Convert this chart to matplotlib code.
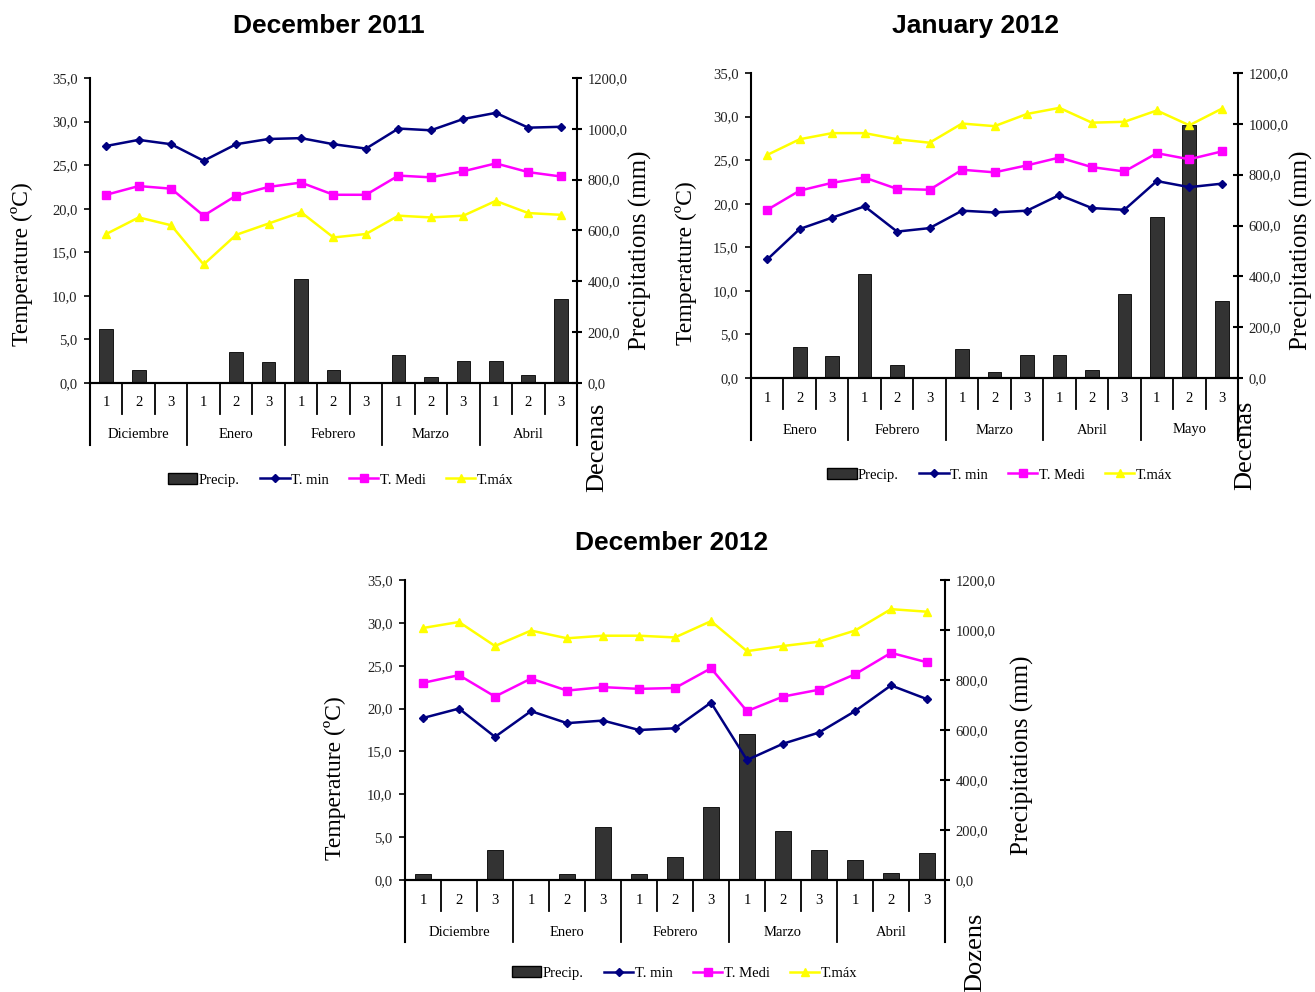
import matplotlib
matplotlib.use("Agg")
import matplotlib.pyplot as plt
from matplotlib.ticker import FuncFormatter, MultipleLocator
from matplotlib.patches import Patch
from matplotlib.lines import Line2D

plt.rcParams['font.family'] = ['Liberation Serif', 'DejaVu Serif']

decades = ['1', '2', '3']
months_a = ['Diciembre', 'Enero', 'Febrero', 'Marzo', 'Abril']
months_b = ['Enero', 'Febrero', 'Marzo', 'Abril', 'Mayo']

# December 2011
tmin_1 = [27.2, 27.9, 27.4, 25.5, 27.4, 28.0, 28.1, 27.4, 26.9, 29.2, 29.0, 30.3, 31.0, 29.3, 29.4]
tmed_1 = [21.6, 22.6, 22.3, 19.2, 21.5, 22.5, 23.0, 21.6, 21.6, 23.8, 23.6, 24.3, 25.2, 24.2, 23.7]
tmax_1 = [17.1, 19.0, 18.1, 13.6, 17.0, 18.3, 19.6, 16.7, 17.1, 19.2, 19.0, 19.2, 20.9, 19.5, 19.3]
prec_1 = [212, 50, 0, 0, 122, 84, 410, 50, 0, 111, 22, 88, 88, 31, 330]

# January 2012
tmin_2 = [13.6, 17.1, 18.4, 19.7, 16.8, 17.2, 19.2, 19.0, 19.2, 21.0, 19.5, 19.3, 22.6, 21.9, 22.3]
tmed_2 = [19.3, 21.5, 22.4, 23.0, 21.7, 21.6, 23.9, 23.6, 24.4, 25.3, 24.2, 23.7, 25.8, 25.1, 26.0]
tmax_2 = [25.6, 27.4, 28.1, 28.1, 27.4, 27.0, 29.2, 28.9, 30.3, 31.0, 29.3, 29.4, 30.7, 29.0, 30.9]
prec_2 = [0, 123, 85, 411, 52, 0, 113, 24, 89, 89, 33, 330, 635, 995, 304]

# December 2012
tmin_3 = [18.9, 20.0, 16.7, 19.7, 18.3, 18.6, 17.5, 17.7, 20.7, 14.0, 15.9, 17.2, 19.7, 22.7, 21.1]
tmed_3 = [23.0, 23.9, 21.4, 23.5, 22.1, 22.5, 22.3, 22.4, 24.7, 19.7, 21.4, 22.2, 24.0, 26.5, 25.4]
tmax_3 = [29.4, 30.1, 27.3, 29.1, 28.2, 28.5, 28.5, 28.3, 30.2, 26.7, 27.3, 27.8, 29.1, 31.6, 31.3]
prec_3 = [23, 0, 122, 0, 23, 211, 23, 94, 293, 583, 198, 122, 79, 27, 107]

W, H = 1315, 992
comma = FuncFormatter(lambda v, p: f"{v:.1f}".replace('.', ','))


def fig_text(fig, px, py, s, **kw):
    fig.text(px / W, 1 - py / H, s, **kw)


def panel(fig, box, months, tmin, tmed, tmax, prec, xname, lab):
    # box in pixels: left, top, right, bottom
    l, t, r, b = box
    ax = fig.add_axes([l / W, 1 - b / H, (r - l) / W, (b - t) / H])
    ax2 = ax.twinx()
    ax.set_zorder(ax2.get_zorder() + 1)
    ax.patch.set_visible(False)

    x = list(range(len(tmin)))
    ax2.bar(x, prec, width=0.42, color='#333333', edgecolor='black', linewidth=0.6)
    ax.plot(x, tmin, color='#000080', lw=1.8, marker='D', ms=3.8, label='T. min')
    ax.plot(x, tmed, color='#FF00FF', lw=1.8, marker='s', ms=5.2, label='T. Medi')
    ax.plot(x, tmax, color='#FFFF00', lw=1.8, marker='^', ms=5.8, label='T.máx')

    ax.set_xlim(-0.5, len(x) - 0.5)
    ax.set_ylim(0, 35)
    ax2.set_ylim(0, 1200)
    ax.yaxis.set_major_locator(MultipleLocator(5))
    ax2.yaxis.set_major_locator(MultipleLocator(200))
    ax.yaxis.set_major_formatter(comma)
    ax2.yaxis.set_major_formatter(comma)
    ax.set_xticks([])
    ax2.set_xticks([])
    for a in (ax, ax2):
        a.spines['top'].set_visible(False)
        for s in a.spines.values():
            s.set_linewidth(1.5)
    ax.spines['right'].set_visible(False)
    ax2.spines['left'].set_visible(False)
    ax.tick_params(axis='y', direction='out', length=4, width=1.2, labelsize=10.5, pad=5,
                   labelcolor='#222222')
    ax2.tick_params(axis='y', direction='inout', length=7, width=1.5, labelsize=10.5, pad=4,
                    labelcolor='#222222')

    fig_text(fig, lab[0][0], lab[0][1], 'Temperature (ºC)', rotation=90,
             ha='center', va='center', fontsize=17)
    fig_text(fig, lab[1][0], lab[1][1], 'Precipitations (mm)', rotation=90,
             ha='center', va='center', fontsize=18)
    fig_text(fig, lab[2][0], lab[2][1], xname, rotation=90,
             ha='center', va='center', fontsize=19)

    # two-level category axis
    tr = ax.get_xaxis_transform()
    ph = b - t
    for i in range(len(x)):
        ax.text(i, -20 / ph, decades[i % 3], transform=tr, ha='center', va='center', fontsize=10.5)
        if i > 0:
            low = -62 / ph if i % 3 == 0 else -31 / ph
            ax.plot([i - 0.5, i - 0.5], [0, low], transform=tr, color='black', lw=1.3, clip_on=False)
    for e in (-0.5, len(x) - 0.5):
        ax.plot([e, e], [0, -62 / ph], transform=tr, color='black', lw=1.5, clip_on=False)
    for j, m in enumerate(months):
        ax.text(3 * j + 1, -52 / ph, m, transform=tr, ha='center', va='center', fontsize=10.5)

    handles = [Patch(facecolor='#333333', edgecolor='black', label='Precip.'),
               Line2D([], [], color='#000080', lw=1.8, marker='D', ms=3.8, label='T. min'),
               Line2D([], [], color='#FF00FF', lw=1.8, marker='s', ms=5.2, label='T. Medi'),
               Line2D([], [], color='#FFFF00', lw=1.8, marker='^', ms=5.8, label='T.máx')]
    ax.legend(handles=handles, loc='center', bbox_to_anchor=(lab[3][0], lab[3][1]), ncol=4,
              frameon=False, fontsize=10.5, handlelength=2.0, handletextpad=0.1,
              columnspacing=1.4)
    return ax


fig = plt.figure(figsize=(W / 100, H / 100), dpi=100)

panel(fig, (90, 78, 577, 383), months_a, tmin_1, tmed_1, tmax_1, prec_1, 'Decenas',
      ((22, 264), (640, 250), (597, 447), (0.515, -0.318)))
panel(fig, (751, 73, 1238, 378), months_b, tmin_2, tmed_2, tmax_2, prec_2, 'Decenas',
      ((686, 263), (1301, 250), (1245, 445), (0.511, -0.318)))
panel(fig, (405, 580, 945, 880), months_a, tmin_3, tmed_3, tmax_3, prec_3, 'Dozens',
      ((335, 778), (1022, 755), (975, 952), (0.518, -0.31)))

title_font = dict(family=['Liberation Sans', 'DejaVu Sans'], fontsize=19, fontweight='bold',
                  ha='center', va='center')
fig_text(fig, 329, 26, 'December 2011', **title_font)
fig_text(fig, 975, 26, 'January 2012', **title_font)
fig_text(fig, 672, 543, 'December 2012', **title_font)

fig.savefig('out.png', dpi=100)
